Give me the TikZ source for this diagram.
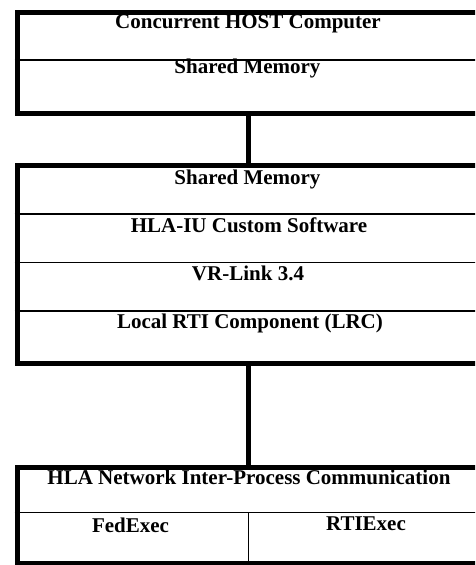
\documentclass[tikz,border=0pt]{standalone}
\usepackage{fontspec}
\setmainfont{Liberation Serif}
\begin{document}
\begin{tikzpicture}[x=1pt,y=-1pt,
  box/.style={draw=black, line width=5pt, rectangle, anchor=north west, inner sep=0pt},
  lbl/.style={anchor=base, inner sep=0pt, font=\fontsize{21}{25}\selectfont\bfseries},
  divider/.style={line width=1.3pt},
  link/.style={line width=4.5pt}]
\useasboundingbox (0,0) rectangle (475,565);
\clip (0,0) rectangle (475,565);
% boxes
\node[box, minimum width=490pt, minimum height=101pt] (hostbox) at (14.5,10) {};
\node[box, minimum width=490pt, minimum height=198.5pt] (fedbox) at (14.5,162.5) {};
\node[box, minimum width=490pt, minimum height=96.5pt] (netbox) at (14.5,464.5) {};
% dividers
\coordinate (d1) at (14.5,60);
\coordinate (d2) at (14.5,214);
\coordinate (d3) at (14.5,262.5);
\coordinate (d4) at (14.5,311);
\coordinate (d5) at (14.5,512.7);
\draw[divider] (d1) -- (d1 -| hostbox.east);
\draw[divider] (d2) -- (d2 -| fedbox.east);
\draw[divider] (d3) -- (d3 -| fedbox.east);
\draw[divider] (d4) -- (d4 -| fedbox.east);
\draw[divider] (d5) -- (d5 -| netbox.east);
\coordinate (vx) at (248.3,0);
\draw[divider] (d5 -| vx) -- (netbox.south -| vx);
% connectors
\coordinate (cx) at (248.5,0);
\draw[link] (hostbox.south -| cx) -- (fedbox.north -| cx);
\draw[link] (fedbox.south -| cx) -- (netbox.north -| cx);
% labels
\node[lbl] (host) at (248,28) {Concurrent HOST Computer};
\node[lbl] (shm1) at (247.5,73) {Shared Memory};
\node[lbl] (shm2) at (247.5,184) {Shared Memory};
\node[lbl] (hlaiu) at (249,232) {HLA-IU Custom Software};
\node[lbl] (vrlink) at (248,280) {VR-Link 3.4};
\node[lbl] (lrc) at (250,328) {Local RTI Component (LRC)};
\node[lbl] (hlanet) at (249,484) {HLA Network Inter-Process Communication};
\node[lbl] (fedexec) at (130.5,532) {FedExec};
\node[lbl] (rtiexec) at (366,530) {RTIExec};
\end{tikzpicture}
\end{document}
